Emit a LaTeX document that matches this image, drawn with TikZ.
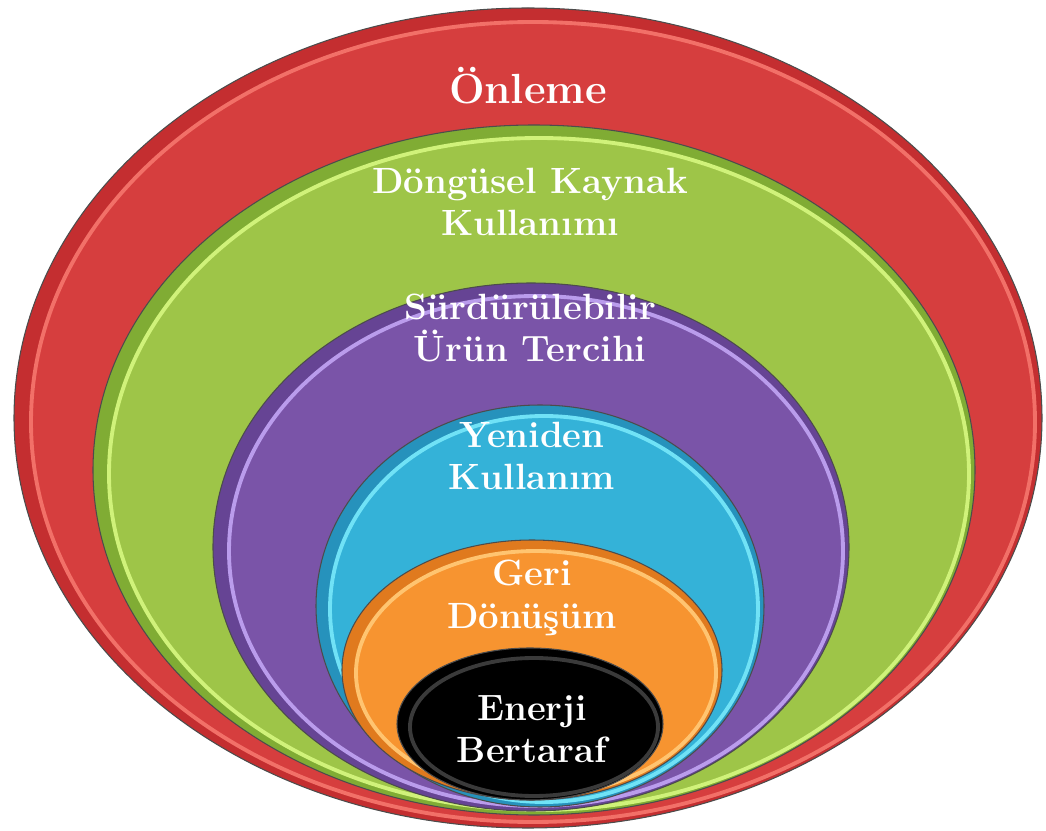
\documentclass[tikz,border=0pt]{standalone}
\usepackage{fontspec}
\usepackage{tikz}
\usetikzlibrary{positioning}

\definecolor{redout}{RGB}{196,46,48}
\definecolor{redbase}{RGB}{214,62,62}
\definecolor{redrim}{RGB}{242,112,104}
\definecolor{greenout}{RGB}{128,172,52}
\definecolor{greenbase}{RGB}{158,197,72}
\definecolor{greenrim}{RGB}{208,242,122}
\definecolor{purpleout}{RGB}{102,68,148}
\definecolor{purplebase}{RGB}{122,84,168}
\definecolor{purplerim}{RGB}{186,156,236}
\definecolor{cyanout}{RGB}{38,146,188}
\definecolor{cyanbase}{RGB}{52,178,216}
\definecolor{cyanrim}{RGB}{112,226,246}
\definecolor{orangeout}{RGB}{224,122,30}
\definecolor{orangebase}{RGB}{247,148,48}
\definecolor{orangerim}{RGB}{255,196,112}
\definecolor{blackrim}{RGB}{58,58,58}

\begin{document}
\begin{tikzpicture}[x=0.02cm, y=-0.02cm,
    outer/.style={draw=black!70, line width=0.6pt},
    inner/.style={line width=2.2pt},
    lbl/.style={text=white, font=\bfseries\fontsize{20.8}{24.2}\selectfont, align=center}]
    \useasboundingbox (0,0) rectangle (1046,831);
    % Red layer
    \filldraw[outer, fill=redout] (528,418) ellipse [x radius=514, y radius=410];
    \filldraw[inner, draw=redrim, fill=redbase] (533,422) ellipse [x radius=502, y radius=400];
    % Green layer
    \filldraw[outer, fill=greenout] (534,470) ellipse [x radius=441, y radius=345];
    \filldraw[inner, draw=greenrim, fill=greenbase] (539,474) ellipse [x radius=430, y radius=336];
    % Purple layer
    \filldraw[outer, fill=purpleout] (531,547) ellipse [x radius=318, y radius=264];
    \filldraw[inner, draw=purplerim, fill=purplebase] (536,551) ellipse [x radius=307, y radius=255];
    % Cyan layer
    \filldraw[outer, fill=cyanout] (540,606) ellipse [x radius=224, y radius=201];
    \filldraw[inner, draw=cyanrim, fill=cyanbase] (544,609) ellipse [x radius=214, y radius=193];
    % Orange layer
    \filldraw[outer, fill=orangeout] (532,670) ellipse [x radius=190, y radius=130];
    \filldraw[inner, draw=orangerim, fill=orangebase] (536,673) ellipse [x radius=180, y radius=122];
    % Black core
    \filldraw[outer, fill=black] (530,724) ellipse [x radius=133, y radius=76];
    \filldraw[inner, draw=blackrim, fill=black] (534,727) ellipse [x radius=124, y radius=69];
    % Labels
    \node[lbl, font=\bfseries\fontsize{24}{28}\selectfont, anchor=base] (onleme) at (528,104) {Önleme};
    \node[lbl] (dongusel) at (530,202) {Döngüsel Kaynak\\Kullanımı};
    \node[lbl] (urun) at (530,328) {Sürdürülebilir\\Ürün Tercihi};
    \node[lbl] (yeniden) at (532,456) {Yeniden\\Kullanım};
    \node[lbl] (geri) at (532,598) {Geri\\Dönüşüm};
    \node[lbl] (enerji) at (532,729) {Enerji\\Bertaraf};
\end{tikzpicture}
\end{document}
